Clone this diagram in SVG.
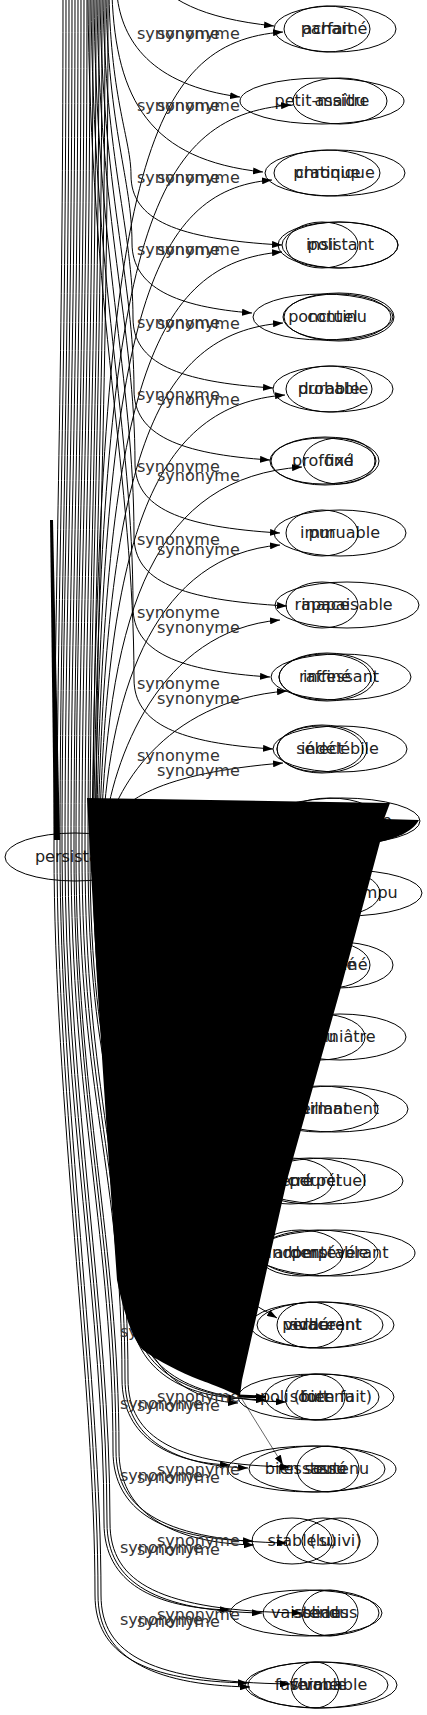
<svg xmlns="http://www.w3.org/2000/svg" width="427" height="1715" viewBox="0 0 427 1715">
<defs>
<marker id="ah" markerWidth="10" markerHeight="7" refX="10" refY="3.5" orient="auto" markerUnits="userSpaceOnUse"><path d="M0,0 L10,3.5 L0,7 z" fill="#000"/></marker>
<style>
.n ellipse{fill:none;stroke:#000;stroke-width:1}
.n text{font-family:"DejaVu Sans",sans-serif;font-size:16px;text-anchor:middle;fill:#222}
.e path{fill:none;stroke:#000;stroke-width:1}
.e path.a{marker-end:url(#ah)}
.lb text{font-family:"DejaVu Sans",sans-serif;font-size:16px;fill:#333}
</style>
</defs>
<rect width="427" height="1715" fill="#fff"/>
<g id="nodes">
<g id="persistant" class="n"><ellipse cx="75" cy="857" rx="70" ry="24"/><text x="75" y="862">persistant</text></g>
<g id="acharne" class="n"><ellipse cx="335" cy="29" rx="61" ry="23"/><text x="335" y="34">acharné</text></g>
<g id="parfait" class="n"><ellipse cx="327" cy="29" rx="43" ry="23"/><text x="327" y="34">parfait</text></g>
<g id="petit-maitre" class="n"><ellipse cx="322" cy="101" rx="82" ry="23"/><text x="322" y="106">petit-maître</text></g>
<g id="assidu" class="n"><ellipse cx="340" cy="101" rx="47" ry="23"/><text x="340" y="106">assidu</text></g>
<g id="chronique" class="n"><ellipse cx="335" cy="173" rx="70" ry="23"/><text x="335" y="178">chronique</text></g>
<g id="pratique" class="n"><ellipse cx="327" cy="173" rx="53" ry="23"/><text x="327" y="178">pratique</text></g>
<g id="insistant" class="n"><ellipse cx="340" cy="245" rx="58" ry="23"/><ellipse cx="338" cy="245" rx="60" ry="23"/><text x="340" y="250">insistant</text></g>
<g id="poli" class="n"><ellipse cx="322" cy="245" rx="36" ry="23"/><text x="322" y="250">poli</text></g>
<g id="ponctuel" class="n"><ellipse cx="323" cy="317" rx="70" ry="23"/><text x="323" y="322">ponctuel</text></g>
<g id="continu" class="n"><ellipse cx="337" cy="317" rx="54" ry="23"/><ellipse cx="339" cy="317" rx="55" ry="24"/><text x="337" y="322">continu</text></g>
<g id="probable" class="n"><ellipse cx="333" cy="389" rx="60" ry="23"/><text x="333" y="394">probable</text></g>
<g id="durable" class="n"><ellipse cx="329" cy="389" rx="43" ry="23"/><text x="329" y="394">durable</text></g>
<g id="profond" class="n"><ellipse cx="323" cy="461" rx="53" ry="23"/><ellipse cx="325" cy="461" rx="54" ry="24"/><text x="323" y="466">profond</text></g>
<g id="fixe" class="n"><ellipse cx="339" cy="461" rx="36" ry="23"/><text x="339" y="466">fixé</text></g>
<g id="immuable" class="n"><ellipse cx="340" cy="533" rx="66" ry="23"/><text x="340" y="538">immuable</text></g>
<g id="pur" class="n"><ellipse cx="322" cy="533" rx="36" ry="23"/><text x="322" y="538">pur</text></g>
<g id="inapaisable" class="n"><ellipse cx="347" cy="605" rx="72" ry="23"/><text x="347" y="610">inapaisable</text></g>
<g id="rapace" class="n"><ellipse cx="322" cy="605" rx="36" ry="23"/><text x="322" y="610">rapace</text></g>
<g id="incessant" class="n"><ellipse cx="341" cy="677" rx="70" ry="23"/><text x="341" y="682">incessant</text></g>
<g id="raffine" class="n"><ellipse cx="325" cy="677" rx="46" ry="23"/><ellipse cx="327" cy="677" rx="48" ry="24"/><text x="325" y="682">raffiné</text></g>
<g id="indelebile" class="n"><ellipse cx="340" cy="749" rx="67" ry="23"/><text x="340" y="754">indélébile</text></g>
<g id="select" class="n"><ellipse cx="320" cy="749" rx="43" ry="23"/><ellipse cx="322" cy="749" rx="45" ry="24"/><text x="320" y="754">sélect</text></g>
<g id="inebranlable" class="n"><ellipse cx="342" cy="821" rx="78" ry="23"/><text x="342" y="826">inébranlable</text></g>
<g id="tenace" class="n"><ellipse cx="330" cy="821" rx="50" ry="23"/><text x="330" y="826">tenace</text></g>
<g id="ininterrompu" class="n"><ellipse cx="346" cy="893" rx="76" ry="23"/><text x="346" y="898">ininterrompu</text></g>
<g id="fidele" class="n"><ellipse cx="335" cy="893" rx="45" ry="23"/><text x="335" y="898">fidèle</text></g>
<g id="obstine" class="n"><ellipse cx="338" cy="965" rx="55" ry="23"/><text x="338" y="970">obstiné</text></g>
<g id="entete" class="n"><ellipse cx="330" cy="965" rx="40" ry="23"/><text x="330" y="970">entêté</text></g>
<g id="opiniatre" class="n"><ellipse cx="340" cy="1037" rx="66" ry="23"/><text x="340" y="1042">opiniâtre</text></g>
<g id="tetu" class="n"><ellipse cx="320" cy="1037" rx="45" ry="23"/><text x="320" y="1042">têtu</text></g>
<g id="permanent" class="n"><ellipse cx="335" cy="1109" rx="73" ry="23"/><text x="335" y="1114">permanent</text></g>
<g id="vaillant" class="n"><ellipse cx="320" cy="1109" rx="58" ry="23"/><text x="320" y="1114">vaillant</text></g>
<g id="perpetuel" class="n"><ellipse cx="328" cy="1181" rx="75" ry="23"/><text x="328" y="1186">perpétuel</text></g>
<g id="endurci" class="n"><ellipse cx="310" cy="1181" rx="55" ry="23"/><text x="310" y="1186">endurci</text></g>
<g id="ancre" class="n"><ellipse cx="290" cy="1181" rx="43" ry="23"/><text x="290" y="1186">ancré</text></g>
<g id="perseverant" class="n"><ellipse cx="335" cy="1253" rx="80" ry="23"/><text x="340" y="1258">persévérant</text></g>
<g id="indomptable" class="n"><ellipse cx="318" cy="1253" rx="60" ry="23"/><text x="318" y="1258">indomptable</text></g>
<g id="ardent" class="n"><ellipse cx="300" cy="1253" rx="43" ry="23"/><text x="300" y="1258">ardent</text></g>
<g id="perdurant" class="n"><ellipse cx="322" cy="1325" rx="72" ry="23"/><text x="322" y="1330">perdurant</text></g>
<g id="adherent" class="n"><ellipse cx="320" cy="1325" rx="63" ry="23"/><text x="325" y="1330">adhérent</text></g>
<g id="vivace" class="n"><ellipse cx="310" cy="1325" rx="33" ry="23"/><text x="310" y="1330">vivace</text></g>
<g id="poli-bien-fait" class="n"><ellipse cx="316" cy="1397" rx="78" ry="23"/><text x="316" y="1402">poli (bien fait)</text></g>
<g id="soutenu" class="n"><ellipse cx="322" cy="1397" rx="57" ry="23"/><text x="322" y="1402">soutenu</text></g>
<g id="fort" class="n"><ellipse cx="315" cy="1397" rx="30" ry="23"/><text x="315" y="1402">fort</text></g>
<g id="ressasse" class="n"><ellipse cx="312" cy="1469" rx="84" ry="23"/><text x="312" y="1474">ressassé</text></g>
<g id="bien-soutenu" class="n"><ellipse cx="317" cy="1469" rx="68" ry="23"/><text x="317" y="1474">bien soutenu</text></g>
<g id="tenu" class="n"><ellipse cx="328" cy="1469" rx="31" ry="23"/><text x="328" y="1474">tenu</text></g>
<g id="stable" class="n"><ellipse cx="292" cy="1541" rx="40" ry="23"/><text x="292" y="1546">stable</text></g>
<g id="lu" class="n"><ellipse cx="323" cy="1541" rx="37" ry="23"/><text x="323" y="1546">(lu)</text></g>
<g id="suivi" class="n"><ellipse cx="340" cy="1541" rx="38" ry="23"/><text x="340" y="1546">suivi)</text></g>
<g id="vaisseau" class="n"><ellipse cx="306" cy="1613" rx="76" ry="23"/><text x="306" y="1618">vaisseau</text></g>
<g id="solides" class="n"><ellipse cx="321" cy="1613" rx="58" ry="23"/><text x="321" y="1618">solides</text></g>
<g id="tendus" class="n"><ellipse cx="330" cy="1613" rx="28" ry="23"/><text x="330" y="1618">tendus</text></g>
<g id="fashionable" class="n"><ellipse cx="321" cy="1685" rx="76" ry="23"/><text x="321" y="1690">fashionable</text></g>
<g id="vivable" class="n"><ellipse cx="318" cy="1685" rx="70" ry="23"/><text x="318" y="1690">vivable</text></g>
<g id="ferme" class="n"><ellipse cx="315" cy="1685" rx="24" ry="23"/><text x="315" y="1690">ferme</text></g>
</g>
<g id="connectors">
<g class="e">
<path class="a" d="M145,-30 C168,0 200,18 274,26"/>
<path class="a" d="M117,-5 C122,40 150,85 240,97"/>
<path class="a" d="M112,-5 C116,100 150,160 263,172"/>
<path class="a" d="M109,-5 C111,100 131,140 131,175 C131,220 176,239 282,245"/>
<path class="a" d="M106,-5 C108,130 132,180 132,243 C132,288 177,307 252,313"/>
<path class="a" d="M103,-5 C105,160 133,230 133,318 C133,363 178,382 273,388"/>
<path class="a" d="M100,-5 C102,190 134,280 134,390 C134,435 179,454 270,460"/>
<path class="a" d="M97,-5 C99,220 135,330 135,463 C135,508 180,527 280,533"/>
<path class="a" d="M94,-5 C96,250 134,380 134,536 C134,581 179,600 287,606"/>
<path class="a" d="M91,-5 C93,280 133,430 133,607 C133,652 178,671 270,677"/>
<path class="a" d="M88,-5 C90,310 134,480 134,679 C134,724 179,743 273,749"/>
<path class="a" d="M92,835 C100,172 147,42 283,32"/>
<path class="a" d="M93.5,835 C101.5,245 148.5,115 291,105"/>
<path class="a" d="M95,835 C103,320 150,190 272,180"/>
<path class="a" d="M96.5,835 C104.5,392 151.5,262 282,252"/>
<path class="a" d="M98,835 C106,463 153,333 283,323"/>
<path class="a" d="M99.5,835 C107.5,535 154.5,405 285,395"/>
<path class="a" d="M101,835 C109,607 156,477 302,467"/>
<path class="a" d="M102.5,835 C110.5,685 157.5,555 280,545"/>
<path class="a" d="M104,835 C112,760 159,630 280,620"/>
<path class="a" d="M105.5,835 C113.5,795 160.5,701 287,691"/>
<path class="a" d="M107,835 C115,800 162,773 283,763"/>
<path class="a" d="M63,-5 C63,400 54,600 54,850 C54,1100 95,1385 95,1595 C95,1655 145,1681 248,1683"/>
<path class="a" d="M66,-5 C66,400 57,600 57,850 C57,1100 98,1385 98,1595 C98,1655 148,1685 250,1687"/>
<path class="a" d="M69,-5 C69,400 60,600 60,850 C60,1100 101,1385 101,1595 C101,1655 151,1682 290,1684"/>
<path class="a" d="M72,-5 C72,400 62,600 62,850 C62,1100 104,1313 104,1523 C104,1583 154,1608 230,1610"/>
<path class="a" d="M75,-5 C75,400 65,600 65,850 C65,1100 107,1313 107,1523 C107,1583 157,1611 262,1613"/>
<path class="a" d="M78,-5 C78,400 68,600 68,850 C68,1100 110,1313 110,1523 C110,1583 160,1611 302,1613"/>
<path class="a" d="M81,-5 C81,400 71,600 71,850 C71,1100 113,1241 113,1451 C113,1511 163,1539 253,1541"/>
<path class="a" d="M84,-5 C84,400 74,600 74,850 C74,1100 116,1241 116,1451 C116,1511 166,1541 287,1543"/>
<path class="a" d="M87,-5 C87,400 76,600 76,850 C76,1100 119,1241 119,1451 C119,1511 169,1543 254,1545"/>
<path class="a" d="M90,-5 C90,400 79,600 79,850 C79,1100 122,1169 122,1379 C122,1439 172,1463 230,1465"/>
<path class="a" d="M93,-5 C93,400 82,600 82,850 C82,1100 125,1169 125,1379 C125,1439 175,1466 248,1468"/>
<path class="a" d="M96,-5 C96,400 85,600 85,850 C85,1100 128,1169 128,1379 C128,1439 178,1465 290,1467"/>
<path class="a" d="M99,-5 C99,400 88,600 88,850 C88,1100 131,1097 131,1307 C131,1367 181,1396 238,1398"/>
<path class="a" d="M102,-5 C102,400 90,600 90,850 C90,1100 134,1097 134,1307 C134,1367 184,1398 266,1400"/>
<path class="a" d="M105,-5 C105,400 93,600 93,850 C93,1100 137,1097 137,1307 C137,1367 187,1400 286,1402"/>
<path class="a" d="M108,-5 C108,400 96,600 96,850 C96,1100 140,1097 140,1307 C140,1367 190,1401 238,1403"/>
<path class="a" d="M255,1305 L277,1318"/>
<path class="a" d="M240,1396 L283,1465" style="stroke-width:0.6"/>
<path class="a" d="M238,1396 L266,1397" style="stroke-width:3"/>
</g>
<g class="lb">
<text x="137" y="39">synonyme</text><text x="157" y="39">synonyme</text>
<text x="137" y="111">synonyme</text><text x="157" y="111">synonyme</text>
<text x="137" y="183">synonyme</text><text x="157" y="183">synonyme</text>
<text x="137" y="255">synonyme</text><text x="157" y="255">synonyme</text>
<text x="137" y="328">synonyme</text><text x="157" y="329">synonyme</text>
<text x="137" y="400">synonyme</text><text x="157" y="405">synonyme</text>
<text x="137" y="472">synonyme</text><text x="157" y="481">synonyme</text>
<text x="137" y="545">synonyme</text><text x="157" y="555">synonyme</text>
<text x="137" y="618">synonyme</text><text x="157" y="633">synonyme</text>
<text x="137" y="689">synonyme</text><text x="157" y="704">synonyme</text>
<text x="137" y="761">synonyme</text><text x="157" y="776">synonyme</text>
<text x="120" y="1337">synonyme</text>
<text x="120" y="1409">synonyme</text><text x="137" y="1411">synonyme</text><text x="157" y="1402">synonyme</text>
<text x="120" y="1481">synonyme</text><text x="137" y="1483">synonyme</text><text x="157" y="1475">synonyme</text>
<text x="120" y="1553">synonyme</text><text x="137" y="1555">synonyme</text><text x="157" y="1546">synonyme</text>
<text x="120" y="1625">synonyme</text><text x="137" y="1627">synonyme</text><text x="157" y="1620">synonyme</text>
</g>
<path id="spike" d="M50,520 L53,520 L60,840 L54,840 Z" fill="#000"/>
<path id="blob" d="M87,798 L390,803 L384,819 L419,820 C412,833 395,838 380,842 L343,980 L287,1180 L242,1380 L240,1396 L230,1392 C215,1385 205,1382 200,1380 C180,1372 160,1362 143,1350 C135,1342 125,1320 117,1280 L110,1180 L97,980 Z" fill="#000"/>
</g>
</svg>
